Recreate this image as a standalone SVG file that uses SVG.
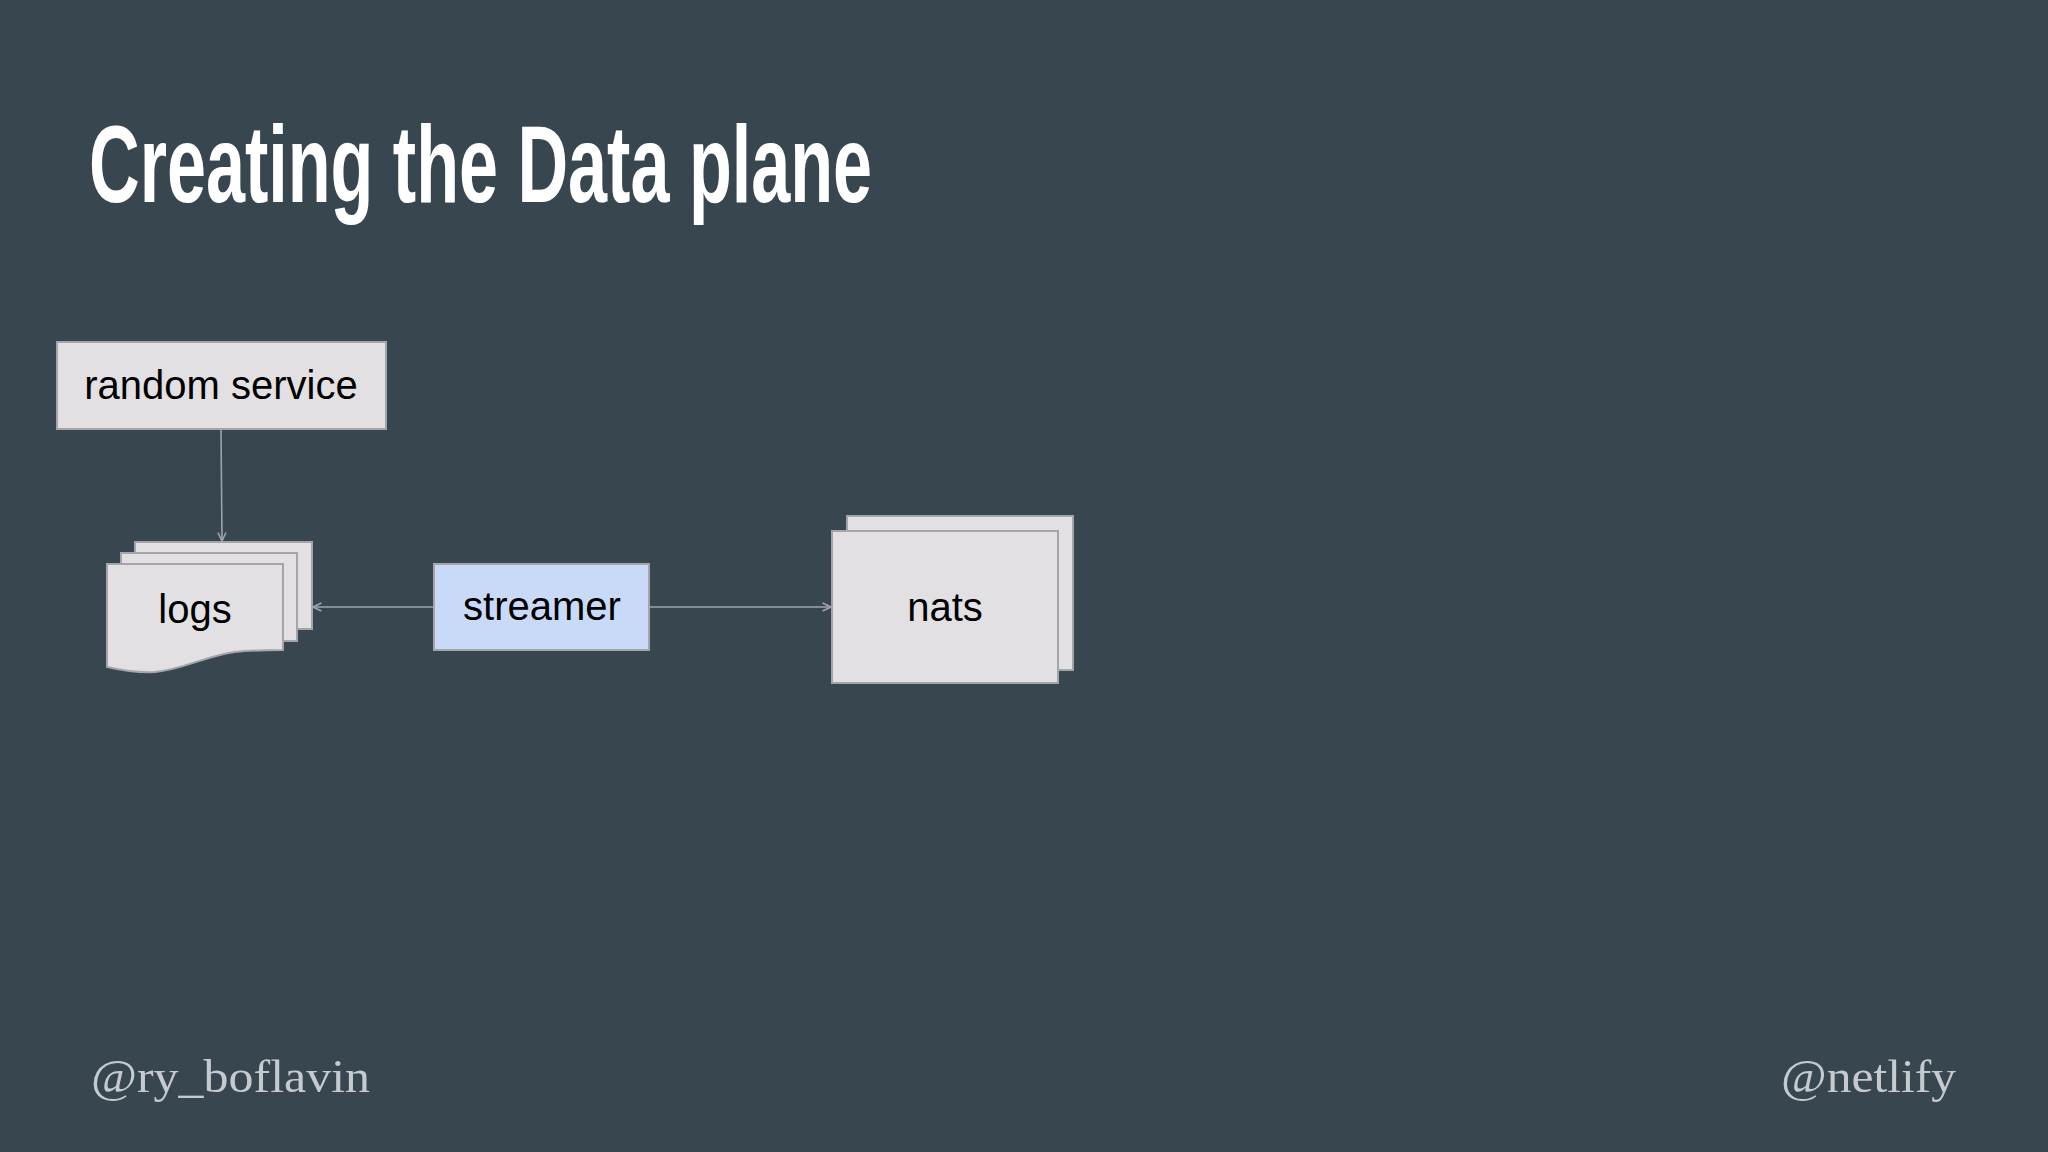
<svg xmlns="http://www.w3.org/2000/svg" width="2048" height="1152" viewBox="0 0 2048 1152">
<style>
.bg{fill:#37464f}
.box{fill:#e2e0e3;stroke:#a4a4a9;stroke-width:2}
.blue{fill:#c9daf8;stroke:#a4a4a9;stroke-width:2}
.lbl{font-family:"Liberation Sans",Arial,sans-serif;font-size:40px;fill:#000;text-anchor:middle}
.conn{fill:none;stroke:#9ea5aa;stroke-width:1.6}
.title{font-family:"Liberation Sans",Arial,sans-serif;font-weight:bold;font-size:109px;fill:#ffffff}
.foot{font-family:"Liberation Serif","Times New Roman",serif;font-size:47px;fill:#c5cacf}
</style>
<defs>
<marker id="arr" viewBox="0 0 10 10" refX="9.5" refY="5" markerWidth="10" markerHeight="10" markerUnits="userSpaceOnUse" orient="auto">
<path d="M1,1 L9.5,5 L1,9" fill="none" stroke="#9ea5aa" stroke-width="1.6"/>
</marker>
</defs>
<rect class="bg" x="0" y="0" width="2048" height="1152"/>
<text class="title" x="89" y="202" textLength="783" lengthAdjust="spacingAndGlyphs">Creating the Data plane</text>
<g id="connectors">
<line class="conn" x1="221" y1="429" x2="222" y2="541" marker-end="url(#arr)"/>
<line class="conn" x1="433" y1="607" x2="313" y2="607" marker-end="url(#arr)"/>
<line class="conn" x1="650" y1="607" x2="831" y2="607" marker-end="url(#arr)"/>
</g>
<g id="random-service">
<rect class="box" x="57" y="342" width="329" height="87"/>
<text class="lbl" x="221" y="399">random service</text>
</g>
<g id="logs">
<rect class="box" x="135" y="542" width="177" height="87"/>
<rect class="box" x="121" y="553" width="176" height="88"/>
<path class="box" d="M107,564 H283 V650 C270,650 255,650 235,652 C205,656 185,669 155,672 C140,673 125,671 107,667 Z"/>
<text class="lbl" x="195" y="623">logs</text>
</g>
<g id="streamer">
<rect class="blue" x="434" y="564" width="215" height="86"/>
<text class="lbl" x="542" y="620">streamer</text>
</g>
<g id="nats">
<rect class="box" x="847" y="516" width="226" height="154"/>
<rect class="box" x="832" y="531" width="226" height="152"/>
<text class="lbl" x="945" y="621">nats</text>
</g>
<text class="foot" x="91" y="1092" textLength="279" lengthAdjust="spacingAndGlyphs">@ry_boflavin</text>
<text class="foot" x="1781" y="1092" textLength="175" lengthAdjust="spacingAndGlyphs">@netlify</text>
</svg>
